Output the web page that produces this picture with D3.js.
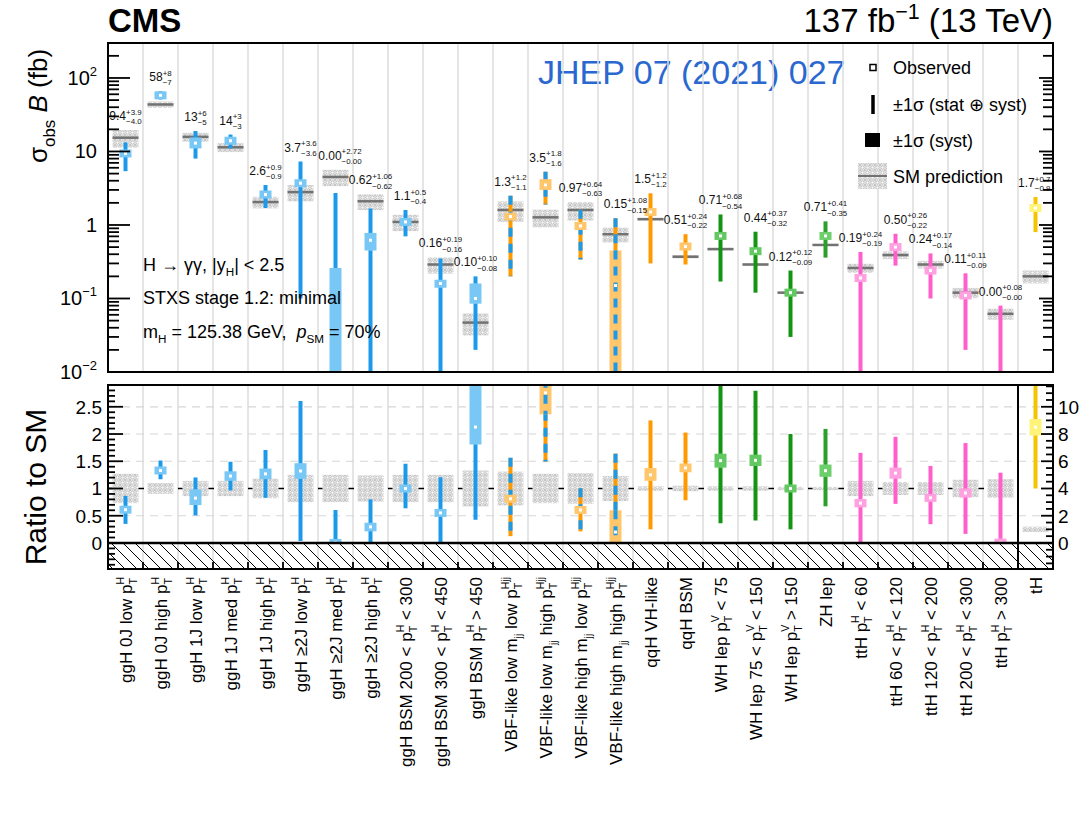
<!DOCTYPE html>
<html>
<head>
<meta charset="utf-8">
<script src="https://cdn.jsdelivr.net/npm/d3@7"></script>
<style>
  body { margin: 0; background: #fff; }
  svg { font-family: "Liberation Sans", Arial, Helvetica, sans-serif; }
</style>
</head>
<body>
<svg id="chart" width="1083" height="813"></svg>
<script>
// ---- STXS stage 1.2 (minimal merging) bins ----
const bins = [
  "ggH 0J low p_{T}^{H}",
  "ggH 0J high p_{T}^{H}",
  "ggH 1J low p_{T}^{H}",
  "ggH 1J med p_{T}^{H}",
  "ggH 1J high p_{T}^{H}",
  "ggH ≥2J low p_{T}^{H}",
  "ggH ≥2J med p_{T}^{H}",
  "ggH ≥2J high p_{T}^{H}",
  "ggH BSM 200 < p_{T}^{H} < 300",
  "ggH BSM 300 < p_{T}^{H} < 450",
  "ggH BSM p_{T}^{H} > 450",
  "VBF-like low m_{jj} low p_{T}^{Hjj}",
  "VBF-like low m_{jj} high p_{T}^{Hjj}",
  "VBF-like high m_{jj} low p_{T}^{Hjj}",
  "VBF-like high m_{jj} high p_{T}^{Hjj}",
  "qqH VH-like",
  "qqH BSM",
  "WH lep p_{T}^{V} < 75",
  "WH lep 75 < p_{T}^{V} < 150",
  "WH lep p_{T}^{V} > 150",
  "ZH lep",
  "ttH p_{T}^{H} < 60",
  "ttH 60 < p_{T}^{H} < 120",
  "ttH 120 < p_{T}^{H} < 200",
  "ttH 200 < p_{T}^{H} < 300",
  "ttH p_{T}^{H} > 300",
  "tH"
];
// production mode of each bin
const modes = ["ggH","ggH","ggH","ggH","ggH","ggH","ggH","ggH","ggH","ggH","ggH",
  "VBF","VBF","VBF","VBF","qqH","qqH","WH","WH","WH","ZH",
  "ttH","ttH","ttH","ttH","ttH","tH"];

// observed sigma*B (fb) with total and systematic uncertainties
const observed = [9.4, 58, 13, 14, 2.6, 3.7, 0.00, 0.62, 1.1, 0.16, 0.10, 1.3, 3.5, 0.97, 0.15, 1.5, 0.51, 0.71, 0.44, 0.12, 0.71, 0.19, 0.50, 0.24, 0.11, 0.00, 1.7];
const totalUp = [3.9, 8, 6, 3, 0.9, 3.6, 2.72, 1.06, 0.5, 0.19, 0.10, 1.2, 1.8, 0.64, 1.08, 1.2, 0.24, 0.68, 0.37, 0.12, 0.41, 0.24, 0.26, 0.17, 0.11, 0.08, 0.7];
const totalDown = [4.0, 7, 5, 3, 0.9, 3.6, 0.00, 0.62, 0.4, 0.16, 0.08, 1.1, 1.6, 0.63, 0.15, 1.2, 0.22, 0.54, 0.32, 0.09, 0.35, 0.19, 0.22, 0.14, 0.09, 0.00, 0.9];
const systUp = [0.6, 3, 2.5, 1, 0.2, 0.4, 0.26, 0.16, 0.05, 0.02, 0.06, 0.1, 0.7, 0.07, 0.30, 0.15, 0.03, 0.06, 0.03, 0.005, 0.06, 0.02, 0.04, 0.02, 0.01, 0.005, 0.12];
const systDown = [0.6, 3, 2.0, 1, 0.2, 0.4, 0.00, 0.17, 0.05, 0.02, 0.015, 0.1, 0.5, 0.07, 0.15, 0.13, 0.03, 0.06, 0.03, 0.005, 0.06, 0.02, 0.04, 0.02, 0.01, 0.00, 0.12];
// number of decimals quoted for each bin
const decimals = [1,0,0,0,1,1,2,2,1,2,2,1,1,2,2,1,2,2,2,2,2,2,2,2,2,2,1];

// SM prediction (fb) and its relative uncertainty
const smPrediction = [15.4, 43.6, 15.8, 11.4, 2.05, 2.8, 4.5, 2.1, 1.1, 0.29, 0.047, 1.6, 1.27, 1.6, 0.75, 1.2, 0.37, 0.47, 0.29, 0.12, 0.535, 0.26, 0.39, 0.29, 0.12, 0.062, 0.2];
const smRelUnc = [0.27, 0.10, 0.14, 0.14, 0.18, 0.25, 0.25, 0.24, 0.25, 0.25, 0.33, 0.31, 0.27, 0.28, 0.23, 0.04, 0.05, 0.04, 0.04, 0.03, 0.03, 0.14, 0.12, 0.12, 0.16, 0.17, 0.2];

// axis tick labels
const logTicks = [0.01, 0.1, 1, 10, 100];
const logTickLabels = ["10^{−2}", "10^{−1}", "1", "10", "10^{2}"];
const ratioTicks = [0, 0.5, 1, 1.5, 2, 2.5];
const ratioTickLabels = ["0", "0.5", "1", "1.5", "2", "2.5"];
const tHRatioTicks = [0, 2, 4, 6, 8, 10];

// ---- styling ----
const palette = {
  ggH: { line: "#1c9ae9", light: "#79c7f4" },
  VBF: { line: "#ff9900", dash: "#1c9ae9", light: "#ffc66c" },
  qqH: { line: "#ff9900", light: "#ffc66c" },
  WH:  { line: "#139413", light: "#62c862" },
  ZH:  { line: "#2a9f2a", light: "#6ccf6c" },
  ttH: { line: "#ff5fcb", light: "#ffa0e0" },
  tH:  { line: "#f5c400", light: "#fff37a" }
};

const svg = d3.select("#chart");
const X0 = 108, X1 = 1053, XTH = 1018;
const TOP0 = 43, TOP1 = 372;
const R0 = 385, R1 = 569;

const x = d3.scaleBand().domain(bins).range([X0, X1]);
const bw = x.bandwidth();
const cx = i => x(bins[i]) + bw / 2;

const yLog = d3.scaleLog().domain([0.01, 299]).range([TOP1, TOP0]);
const ly = v => (v <= 0.01 ? TOP1 + 20 : yLog(v));
const yRatio = d3.scaleLinear().domain([-0.478, 2.9]).range([R1, R0]);
const yTH = d3.scaleLinear().domain([-0.478 * 4, 2.9 * 4]).range([R1, R0]);
const ry = i => (i === bins.length - 1 ? yTH : yRatio);

// ---- rich text with sub/superscripts: ^{..} _{..} ~{italic} ----
function rich(textSel, str, fs, opt = {}) {
  const sf = opt.sf || 0.65, supUp = opt.sup || 0.42, subDn = opt.sub || 0.28;
  const toks = [];
  let buf = "", i = 0;
  while (i < str.length) {
    const c = str[i];
    if ((c === "^" || c === "_" || c === "~") && str[i + 1] === "{") {
      if (buf) { toks.push({ k: "n", s: buf }); buf = ""; }
      const j = str.indexOf("}", i);
      toks.push({ k: c === "^" ? "sup" : c === "_" ? "sub" : "it", s: str.slice(i + 2, j) });
      i = j + 1;
    } else { buf += c; i++; }
  }
  if (buf) toks.push({ k: "n", s: buf });
  textSel.attr("font-size", fs);
  let cur = 0, extraDx = 0;
  for (let t = 0; t < toks.length; t++) {
    const tk = toks[t];
    if (tk.k === "n" || tk.k === "it") {
      const ts = textSel.append("tspan").text(tk.s).attr("font-size", fs).attr("dy", -cur);
      if (extraDx) ts.attr("dx", extraDx);
      if (tk.k === "it") ts.attr("font-style", "italic");
      cur = 0; extraDx = 0;
    } else {
      const off = tk.k === "sup" ? -supUp * fs : subDn * fs;
      const ts = textSel.append("tspan").text(tk.s).attr("font-size", fs * sf).attr("dy", off - cur);
      if (extraDx) ts.attr("dx", extraDx);
      extraDx = 0; cur = off;
      const nx = toks[t + 1];
      if (nx && (nx.k === "sup" || nx.k === "sub") && nx.k !== tk.k) {
        const l1 = ts.node().getComputedTextLength();
        const off2 = nx.k === "sup" ? -supUp * fs : subDn * fs;
        const ts2 = textSel.append("tspan").text(nx.s).attr("font-size", fs * sf)
          .attr("dy", off2 - cur).attr("dx", -l1);
        const l2 = ts2.node().getComputedTextLength();
        cur = off2;
        if (l1 > l2) extraDx = l1 - l2;
        t++;
      }
    }
  }
  return textSel;
}

// ---- defs: clip paths and fill patterns ----
const defs = svg.append("defs");
defs.append("clipPath").attr("id", "clipTop").append("rect")
  .attr("x", X0).attr("y", TOP0).attr("width", X1 - X0).attr("height", TOP1 - TOP0);
defs.append("clipPath").attr("id", "clipRatio").append("rect")
  .attr("x", X0).attr("y", R0).attr("width", XTH - X0).attr("height", yRatio(0) - R0);
defs.append("clipPath").attr("id", "clipTH").append("rect")
  .attr("x", XTH).attr("y", R0).attr("width", X1 - XTH).attr("height", yRatio(0) - R0);

const sm = defs.append("pattern").attr("id", "smHatch").attr("patternUnits", "userSpaceOnUse")
  .attr("width", 5).attr("height", 5);
sm.append("rect").attr("width", 5).attr("height", 5).attr("fill", "#ececec");
sm.append("circle").attr("cx", 2.5).attr("cy", 2.5).attr("r", 1.6)
  .attr("fill", "#fbfbfb").attr("stroke", "#b4b4b4").attr("stroke-width", 0.8);
[[0, 0], [5, 0], [0, 5], [5, 5]].forEach(([a, b]) =>
  sm.append("circle").attr("cx", a).attr("cy", b).attr("r", 1.2).attr("fill", "#c6c6c6"));

const neg = defs.append("pattern").attr("id", "negHatch").attr("patternUnits", "userSpaceOnUse")
  .attr("width", 12).attr("height", 12);
neg.append("path").attr("d", "M-3,-3 L15,15 M-3,9 L3,15 M9,-3 L15,3")
  .attr("stroke", "#000").attr("stroke-width", 1);

// ---- header ----
svg.append("text").attr("x", X0).attr("y", 32).attr("font-size", 33).attr("font-weight", "bold").text("CMS");
rich(svg.append("text").attr("x", X1).attr("y", 32).attr("text-anchor", "end"), "137 fb^{−1} (13 TeV)", 33, { sup: 0.4 });
svg.append("text").attr("x", 538).attr("y", 84).attr("font-size", 34).attr("fill", "#2a68d0").text("JHEP 07 (2021) 027");

// ---- vertical bin separators ----
const edges = d3.range(1, bins.length).map(k => X0 + k * bw);
svg.append("g").selectAll("line").data(edges).join("line")
  .attr("x1", d => d).attr("x2", d => d).attr("y1", TOP0).attr("y2", TOP1)
  .attr("stroke", "#dcdcdc").attr("stroke-width", 1.5);
svg.append("g").selectAll("line").data(edges).join("line")
  .attr("x1", d => d).attr("x2", d => d).attr("y1", R0).attr("y2", R1)
  .attr("stroke", "#dcdcdc").attr("stroke-width", 1.5);

// ---- one bin's marks in a given panel ----
function drawBin(g, i, yf, val) {
  const c = cx(i);
  const col = palette[modes[i]];
  const s = smPrediction[i], u = smRelUnc[i];
  const norm = val.norm;
  // SM band and central line
  g.append("rect").attr("x", c - 13).attr("width", 26)
    .attr("y", yf(norm(s * (1 + u)))).attr("height", Math.max(1, yf(norm(s * (1 - u))) - yf(norm(s * (1 + u)))))
    .attr("fill", "url(#smHatch)");
  if (val.smLine) {
    g.append("line").attr("x1", c - 13).attr("x2", c + 13)
      .attr("y1", yf(norm(s))).attr("y2", yf(norm(s)))
      .attr("stroke", "#727272").attr("stroke-width", 2.5);
  }
  const o = observed[i];
  const top = yf(norm(o + totalUp[i])), bot = yf(norm(o - totalDown[i]));
  g.append("line").attr("x1", c).attr("x2", c).attr("y1", top).attr("y2", bot)
    .attr("stroke", col.line).attr("stroke-width", 4);
  if (col.dash) {
    g.append("line").attr("x1", c).attr("x2", c).attr("y1", top).attr("y2", bot)
      .attr("stroke", col.dash).attr("stroke-width", 4).attr("stroke-dasharray", "9,7");
  }
  // systematic box / observed marker
  let sTop = yf(norm(o + systUp[i])), sBot = yf(norm(o - systDown[i]));
  const yo = yf(norm(o));
  if (sBot - sTop < 8) { sTop = Math.min(sTop, yo - 4); sBot = Math.max(sBot, yo + 4); }
  g.append("rect").attr("x", c - 6).attr("width", 12).attr("y", sTop).attr("height", sBot - sTop)
    .attr("fill", col.light);
  if (col.dash && sBot - sTop > 12) {
    g.append("line").attr("x1", c).attr("x2", c).attr("y1", sTop).attr("y2", sBot)
      .attr("stroke", col.dash).attr("stroke-width", 4).attr("stroke-dasharray", "9,7");
  } else if (sBot - sTop > 12) {
    g.append("line").attr("x1", c).attr("x2", c).attr("y1", sTop).attr("y2", sBot)
      .attr("stroke", col.light).attr("stroke-width", 4);
  }
  g.append("rect").attr("x", c - 1.5).attr("y", yo - 1.5).attr("width", 3).attr("height", 3).attr("fill", "#fff");
}

// ---- upper panel: sigma*B ----
const gTop = svg.append("g").attr("clip-path", "url(#clipTop)");
bins.forEach((b, i) => drawBin(gTop, i, ly, { norm: v => v, smLine: true }));

// value annotations, nudged sideways when two neighbours collide
let prevBox = null;
bins.forEach((b, i) => {
  const f = d3.format(`.${decimals[i]}f`);
  const yTop = Math.min(ly(observed[i] + totalUp[i]), ly(smPrediction[i] * (1 + smRelUnc[i])));
  const str = `${f(observed[i])}^{+${f(totalUp[i])}}_{−${f(totalDown[i])}}`;
  const t = rich(svg.append("text").attr("x", cx(i)).attr("y", yTop - 10).attr("text-anchor", "middle").attr("fill", "#111"),
    str, 12, { sf: 0.66, sup: 0.45, sub: 0.35 });
  let bb = t.node().getBBox();
  let shift = 0;
  if (prevBox && bb.x < prevBox.x + prevBox.width + 1 &&
      bb.y < prevBox.y + prevBox.height && bb.y + bb.height > prevBox.y) {
    shift = prevBox.x + prevBox.width + 1 - bb.x;
  }
  if (bb.x + shift + bb.width > X1 - 2) shift = X1 - 2 - bb.x - bb.width;
  if (shift) { t.attr("x", cx(i) + shift); bb = t.node().getBBox(); }
  prevBox = bb;
});

// frame and log axes
svg.append("rect").attr("x", X0).attr("y", TOP0).attr("width", X1 - X0).attr("height", TOP1 - TOP0)
  .attr("fill", "none").attr("stroke", "#000").attr("stroke-width", 2);
const minor = [];
[0.01, 0.1, 1, 10, 100].forEach(d => d3.range(2, 10).forEach(m => { if (d * m < 299) minor.push(d * m); }));
const gAx = svg.append("g").attr("stroke", "#000").attr("stroke-width", 1.8);
logTicks.forEach(t => {
  gAx.append("line").attr("x1", X0).attr("x2", X0 + 22).attr("y1", yLog(t)).attr("y2", yLog(t));
  gAx.append("line").attr("x1", X1).attr("x2", X1 - 14).attr("y1", yLog(t)).attr("y2", yLog(t));
});
minor.forEach(t => {
  gAx.append("line").attr("x1", X0).attr("x2", X0 + 11).attr("y1", yLog(t)).attr("y2", yLog(t));
  gAx.append("line").attr("x1", X1).attr("x2", X1 - 10).attr("y1", yLog(t)).attr("y2", yLog(t));
});
logTicks.forEach((t, k) => {
  rich(svg.append("text").attr("x", 97).attr("y", yLog(t) + 7).attr("text-anchor", "end"), logTickLabels[k], 20, { sup: 0.45 });
});

// y title
rich(svg.append("text").attr("transform", "translate(47,106) rotate(-90)").attr("text-anchor", "middle"),
  "σ_{obs} ~{B} (fb)", 26, { sub: 0.3 });

// descriptive text
rich(svg.append("text").attr("x", 143).attr("y", 271), "H → γγ, |y_{H}| < 2.5", 18);
rich(svg.append("text").attr("x", 143).attr("y", 304), "STXS stage 1.2: minimal", 18);
rich(svg.append("text").attr("x", 143).attr("y", 338), "m_{H} = 125.38 GeV,\u00a0\u00a0~{p}_{SM} = 70%", 18);

// legend
const lg = svg.append("g");
lg.append("rect").attr("x", 870).attr("y", 64.5).attr("width", 6).attr("height", 6)
  .attr("fill", "#fff").attr("stroke", "#000").attr("stroke-width", 1.5);
lg.append("line").attr("x1", 873).attr("x2", 873).attr("y1", 95).attr("y2", 114)
  .attr("stroke", "#000").attr("stroke-width", 3.5);
lg.append("rect").attr("x", 865).attr("y", 133).attr("width", 15).attr("height", 14).attr("fill", "#000");
lg.append("rect").attr("x", 858).attr("y", 163).attr("width", 29).attr("height", 26).attr("fill", "url(#smHatch)");
lg.append("line").attr("x1", 858).attr("x2", 887).attr("y1", 176).attr("y2", 176)
  .attr("stroke", "#727272").attr("stroke-width", 2);
[["Observed", 74], ["±1σ (stat ⊕ syst)", 111], ["±1σ (syst)", 147], ["SM prediction", 183]].forEach(([t, y]) =>
  lg.append("text").attr("x", 893).attr("y", y).attr("font-size", 18).text(t));

// ---- lower panel: ratio to SM ----
const gGrid = svg.append("g").attr("stroke", "#d6d6d6").attr("stroke-width", 1.2).attr("stroke-dasharray", "8,6");
[0.5, 1.5, 2, 2.5].forEach(t => gGrid.append("line").attr("x1", X0).attr("x2", XTH).attr("y1", yRatio(t)).attr("y2", yRatio(t)));
[2, 6, 8, 10].forEach(t => gGrid.append("line").attr("x1", XTH).attr("x2", X1).attr("y1", yTH(t)).attr("y2", yTH(t)));
svg.append("line").attr("x1", X0).attr("x2", XTH).attr("y1", yRatio(1)).attr("y2", yRatio(1))
  .attr("stroke", "#000").attr("stroke-width", 1.3).attr("stroke-dasharray", "8,6");

const gR = svg.append("g").attr("clip-path", "url(#clipRatio)");
const gRT = svg.append("g").attr("clip-path", "url(#clipTH)");
bins.forEach((b, i) => {
  const s = smPrediction[i];
  drawBin(i === bins.length - 1 ? gRT : gR, i, ry(i), { norm: v => v / s, smLine: false });
});

// unphysical region below zero
svg.append("rect").attr("x", X0).attr("y", yRatio(0)).attr("width", X1 - X0).attr("height", R1 - yRatio(0))
  .attr("fill", "url(#negHatch)");
svg.append("line").attr("x1", X0).attr("x2", X1).attr("y1", yRatio(0)).attr("y2", yRatio(0))
  .attr("stroke", "#000").attr("stroke-width", 2.5);
svg.append("line").attr("x1", XTH).attr("x2", XTH).attr("y1", R0).attr("y2", R1)
  .attr("stroke", "#000").attr("stroke-width", 2);
svg.append("rect").attr("x", X0).attr("y", R0).attr("width", X1 - X0).attr("height", R1 - R0)
  .attr("fill", "none").attr("stroke", "#000").attr("stroke-width", 2);

const gRA = svg.append("g").attr("stroke", "#000").attr("stroke-width", 1.8);
d3.range(-4, 29).forEach(k => {
  const v = k / 10, major = k % 5 === 0;
  gRA.append("line").attr("x1", X0).attr("x2", X0 + (major ? 15 : 7)).attr("y1", yRatio(v)).attr("y2", yRatio(v));
});
d3.range(-3, 24).forEach(k => {
  const v = k / 2, major = k % 4 === 0;
  gRA.append("line").attr("x1", X1).attr("x2", X1 - (major ? 12 : 7)).attr("y1", yTH(v)).attr("y2", yTH(v));
});
edges.forEach(e => gRA.append("line").attr("x1", e).attr("x2", e).attr("y1", R1).attr("y2", R1 - 7));

ratioTicks.forEach((t, k) => svg.append("text").attr("x", 102).attr("y", yRatio(t) + 7)
  .attr("text-anchor", "end").attr("font-size", 19).text(ratioTickLabels[k]));
tHRatioTicks.forEach(t => svg.append("text").attr("x", 1058).attr("y", yTH(t) + 7)
  .attr("font-size", 19).text(String(t)));

svg.append("text").attr("transform", `translate(46,487) rotate(-90)`)
  .attr("text-anchor", "middle").attr("font-size", 30).text("Ratio to SM");

// ---- category labels ----
bins.forEach((b, i) => {
  rich(svg.append("text").attr("transform", `translate(${cx(i) + 6},577) rotate(-90)`)
    .attr("text-anchor", "end"), b, 17, { sf: 0.62, sup: 0.45, sub: 0.3 });
});
</script>
</body>
</html>
